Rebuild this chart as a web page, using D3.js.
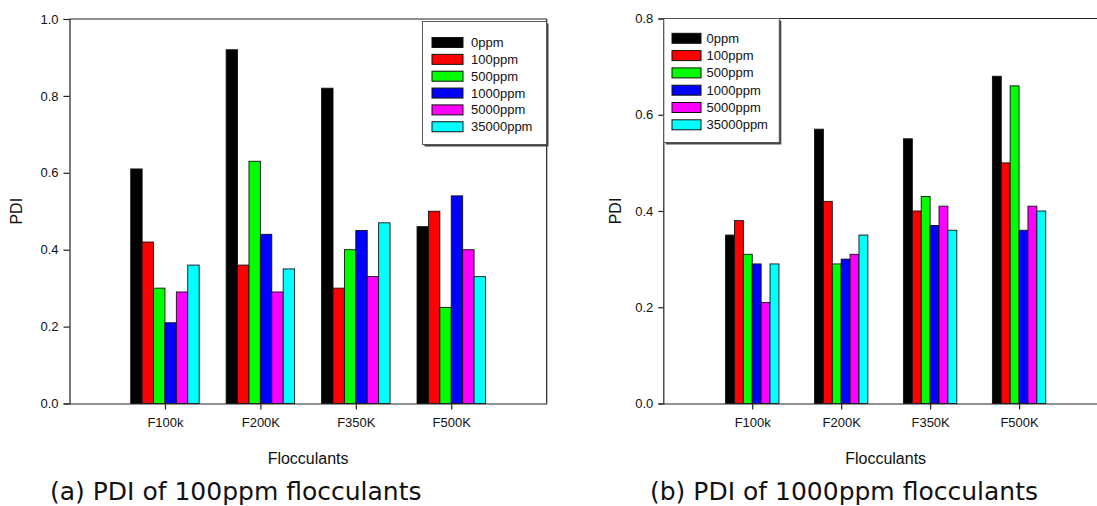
<!DOCTYPE html>
<html>
<head>
<meta charset="utf-8">
<script src="https://cdn.jsdelivr.net/npm/d3@7"></script>
<style>
  html, body { margin: 0; padding: 0; background: #fff; }
  svg { display: block; }
  .tick-label, .legend-label { font-family: "Liberation Sans", Arial, sans-serif; font-size: 13px; fill: #111; }
  .axis-title { font-family: "Liberation Sans", Arial, sans-serif; font-size: 16px; fill: #111; }
  .caption { font-family: "DejaVu Sans", Verdana, sans-serif; font-size: 25px; fill: #111; }
</style>
</head>
<body>
<svg id="chart" width="1097" height="506"></svg>
<script>
// Flocculant grades on the x axis and dosage series in the legend
const flocculants = ["F100k", "F200K", "F350K", "F500K"];
const dosages = ["0ppm", "100ppm", "500ppm", "1000ppm", "5000ppm", "35000ppm"];

// PDI per flocculant (rows) and dosage (columns), 100ppm flocculant dose
const pdi100ppm = [
  [0.61, 0.42, 0.30, 0.21, 0.29, 0.36],
  [0.92, 0.36, 0.63, 0.44, 0.29, 0.35],
  [0.82, 0.30, 0.40, 0.45, 0.33, 0.47],
  [0.46, 0.50, 0.25, 0.54, 0.40, 0.33]
];

// PDI per flocculant (rows) and dosage (columns), 1000ppm flocculant dose
const pdi1000ppm = [
  [0.35, 0.38, 0.31, 0.29, 0.21, 0.29],
  [0.57, 0.42, 0.29, 0.30, 0.31, 0.35],
  [0.55, 0.40, 0.43, 0.37, 0.41, 0.36],
  [0.68, 0.50, 0.66, 0.36, 0.41, 0.40]
];

const ticksA = [0.0, 0.2, 0.4, 0.6, 0.8, 1.0];
const ticksB = [0.0, 0.2, 0.4, 0.6, 0.8];

const xTitle = "Flocculants";
const yTitle = "PDI";
const captionA = "(a) PDI of 100ppm flocculants";
const captionB = "(b) PDI of 1000ppm flocculants";

const seriesColors = ["#000000", "#ff0000", "#00ff00", "#0000ff", "#ff00ff", "#00ffff"];
const axisColor = "#222";

const svg = d3.select("#chart");

function drawPanel(opt) {
  const g = svg.append("g");
  const x = d3.scaleLinear().domain([0, flocculants.length + 1]).range([opt.left, opt.right]);
  const y = d3.scaleLinear().domain([0, opt.yMax]).range([opt.bottom, opt.top]);
  const step = x(1) - x(0);
  const inner = d3.scaleBand().domain(dosages)
    .range([-step * opt.groupFrac / 2, step * opt.groupFrac / 2]).padding(0);

  // frame: top and right edges
  g.append("line").attr("x1", opt.left).attr("x2", opt.right)
    .attr("y1", opt.top).attr("y2", opt.top)
    .attr("stroke", axisColor).attr("stroke-width", 1.2);
  g.append("line").attr("x1", opt.right).attr("x2", opt.right)
    .attr("y1", opt.top).attr("y2", opt.bottom)
    .attr("stroke", axisColor).attr("stroke-width", 1.2);

  // bars
  const groups = g.selectAll("g.group").data(opt.values).join("g")
    .attr("class", "group")
    .attr("transform", (d, i) => `translate(${x(i + 1)},0)`);
  groups.selectAll("rect").data(d => d.map((v, j) => ({ v, s: dosages[j], j })))
    .join("rect")
    .attr("x", d => inner(d.s))
    .attr("width", inner.bandwidth())
    .attr("y", d => y(d.v))
    .attr("height", d => y(0) - y(d.v))
    .attr("fill", d => seriesColors[d.j])
    .attr("stroke", "#111")
    .attr("stroke-width", 0.9);

  // y axis
  const yAxis = d3.axisLeft(y).tickValues(opt.ticks).tickFormat(d3.format(".1f"))
    .tickSize(opt.tickLen).tickPadding(opt.tickPad);
  const ya = g.append("g").attr("transform", `translate(${opt.left},0)`).call(yAxis);
  ya.select(".domain").attr("stroke", axisColor).attr("stroke-width", 1.2);
  ya.selectAll(".tick line").attr("stroke", axisColor).attr("stroke-width", 1.2);
  ya.selectAll(".tick text").attr("class", "tick-label").attr("font-size", null).attr("font-family", null);

  // x axis with ticks at each flocculant
  const xAxis = d3.axisBottom(x).tickValues(d3.range(1, flocculants.length + 1))
    .tickFormat(i => flocculants[i - 1]).tickSize(6).tickPadding(8).tickSizeOuter(0);
  const xa = g.append("g").attr("transform", `translate(0,${opt.bottom})`).call(xAxis);
  xa.select(".domain").attr("stroke", axisColor).attr("stroke-width", 1.2);
  xa.selectAll(".tick line").attr("stroke", axisColor).attr("stroke-width", 1.2);
  xa.selectAll(".tick text").attr("class", "tick-label").attr("font-size", null).attr("font-family", null);

  // axis titles
  g.append("text").attr("class", "axis-title")
    .attr("x", (opt.left + opt.right) / 2).attr("y", 464)
    .attr("text-anchor", "middle").text(xTitle);
  g.append("text").attr("class", "axis-title")
    .attr("transform", `translate(${opt.yTitleX},${(opt.top + opt.bottom) / 2}) rotate(-90)`)
    .attr("text-anchor", "middle").text(yTitle);

  // legend box with drop shadow
  const L = opt.legend;
  const lg = g.append("g");
  lg.append("rect").attr("x", L.x + 2).attr("y", L.y + 2).attr("width", L.w).attr("height", L.h)
    .attr("fill", "#444");
  lg.append("rect").attr("x", L.x).attr("y", L.y).attr("width", L.w).attr("height", L.h)
    .attr("fill", "#fff").attr("stroke", "#555").attr("stroke-width", 1);
  const rows = lg.selectAll("g.row").data(dosages).join("g")
    .attr("class", "row")
    .attr("transform", (d, i) => `translate(0,${L.row0 + i * L.rowStep})`);
  rows.append("rect").attr("x", L.swX).attr("y", -5).attr("width", L.swW).attr("height", 10)
    .attr("fill", (d, i) => seriesColors[i]).attr("stroke", "#111").attr("stroke-width", 1);
  rows.append("text").attr("class", "legend-label")
    .attr("x", L.textX).attr("y", 0).attr("dy", "0.35em").text(d => d);

  // caption under the panel
  g.append("text").attr("class", "caption")
    .attr("x", opt.capX).attr("y", 500).text(opt.caption);
}

drawPanel({
  values: pdi100ppm, yMax: 1.0, ticks: ticksA,
  left: 69.5, right: 546.7, top: 19, bottom: 403.5,
  groupFrac: 0.717, tickLen: 6, tickPad: 5, yTitleX: 22,
  legend: { x: 422.5, y: 21.5, w: 124, h: 123, swX: 432, swW: 31, textX: 471, row0: 42.5, rowStep: 16.85 },
  caption: captionA, capX: 50
});

drawPanel({
  values: pdi1000ppm, yMax: 0.8, ticks: ticksB,
  left: 663.3, right: 1108, top: 18.5, bottom: 403.5,
  groupFrac: 0.6, tickLen: 5, tickPad: 5, yTitleX: 621,
  legend: { x: 663.8, y: 18.5, w: 115.5, h: 124, swX: 672, swW: 29, textX: 706.5, row0: 38.3, rowStep: 17.3 },
  caption: captionB, capX: 650
});
</script>
</body>
</html>
